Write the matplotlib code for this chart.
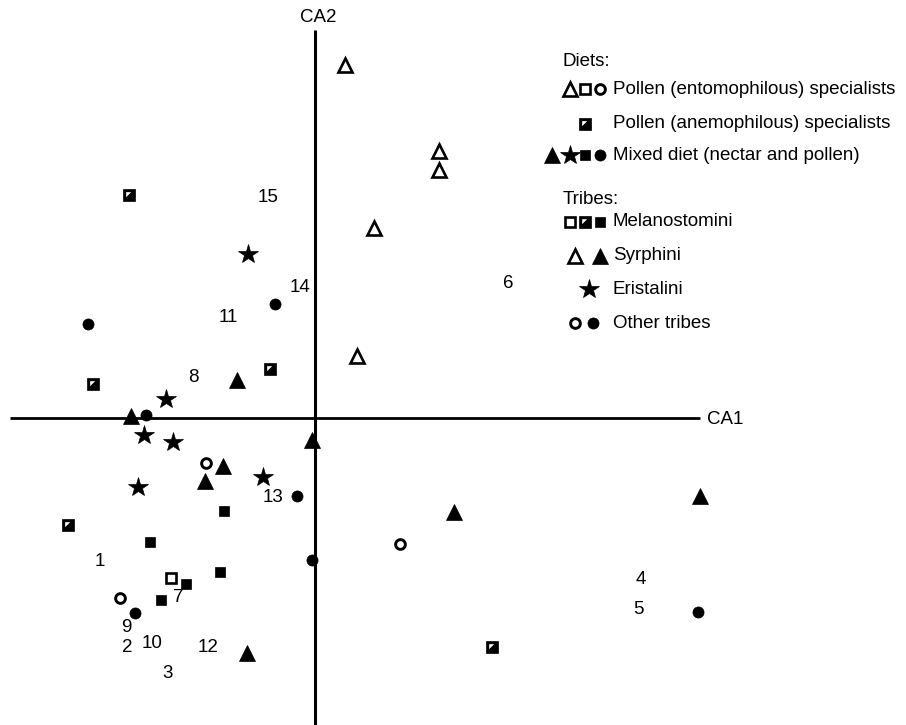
import matplotlib
matplotlib.use("Agg")
import matplotlib.pyplot as plt
import numpy as np

plt.rcParams['font.family'] = ['Liberation Sans', 'DejaVu Sans']

# CA scores (CA1, CA2), grouped by symbol
open_tri_x = [0.30, 1.24, 1.24, 0.59, 0.42]
open_tri_y = [3.53, 2.67, 2.48, 1.90, 0.62]

fill_tri_x = [-1.84, -0.78, -0.92, -1.10, -0.03, 1.39, 3.85, -0.68]
fill_tri_y = [0.02, 0.38, -0.48, -0.63, -0.22, -0.94, -0.78, -2.35]

star_x = [-0.67, -1.49, -1.71, -1.42, -0.52, -1.77]
star_y = [1.64, 0.19, -0.17, -0.24, -0.59, -0.69]

fill_circ_x = [-2.27, -0.40, -1.69, -0.18, -0.03, -1.80, 3.83]
fill_circ_y = [0.94, 1.14, 0.03, -0.78, -1.42, -1.95, -1.94]

open_circ_x = [-1.09, 0.85, -1.95]
open_circ_y = [-0.45, -1.26, -1.80]

fill_sq_x = [-0.91, -1.65, -0.95, -1.29, -1.54]
fill_sq_y = [-0.93, -1.24, -1.54, -1.66, -1.82]

open_sq_x = [-1.44]
open_sq_y = [-1.60]

half_sq_x = [-1.86, -2.22, -0.45, -2.47, 1.77]
half_sq_y = [2.23, 0.34, 0.49, -1.07, -2.29]

# numbered labels
num_labels = ["1", "2", "3", "4", "5", "6", "7", "8", "9", "10", "11", "12", "13", "14", "15"]
num_x = [-2.15, -1.88, -1.47, 3.26, 3.23, 1.93, -1.37, -1.22, -1.89, -1.63, -0.87, -1.07, -0.42, -0.15, -0.47]
num_y = [-1.43, -2.29, -2.55, -1.61, -1.92, 1.35, -1.80, 0.40, -2.09, -2.26, 1.01, -2.30, -0.80, 1.31, 2.20]

# legend content
diet_labels = ["Pollen (entomophilous) specialists",
               "Pollen (anemophilous) specialists",
               "Mixed diet (nectar and pollen)"]
diet_symbols = [["otri", "osq", "ocirc"], ["hsq"], ["ftri", "star", "fsq", "fcirc"]]
tribe_labels = ["Melanostomini", "Syrphini", "Eristalini", "Other tribes"]
tribe_symbols = [["osq", "hsq", "fsq"], ["otri", "ftri"], ["star"], ["ocirc", "fcirc"]]

W, H = 906, 725
fig = plt.figure(figsize=(W / 100, H / 100), dpi=100)
ax = fig.add_axes([0, 0, 1, 1])
ax.set_xlim(-3.15, 5.91)
ax.set_ylim(-3.07, 4.18)
ax.axis('off')

white_tri = [(-1, 1), (0.5, 1), (-1, -0.5), (-1, 1)]

styles = {
    "otri": dict(marker='^', ms=10.5, mfc='white', mec='black', mew=1.9),
    "ftri": dict(marker='^', ms=11, mfc='black', mec='black', mew=0.5),
    "star": dict(marker='*', ms=15, mfc='black', mec='black', mew=0.5),
    "fcirc": dict(marker='o', ms=8, mfc='black', mec='black', mew=0.5),
    "ocirc": dict(marker='o', ms=7, mfc='white', mec='black', mew=2.1),
    "fsq": dict(marker='s', ms=7.5, mfc='black', mec='black', mew=0.5),
    "osq": dict(marker='s', ms=6.5, mfc='white', mec='black', mew=1.9),
}


def draw(kind, x, y, **kw):
    if kind == "hsq":
        ax.plot(x, y, ls='none', marker='s', ms=8, mfc='black', mec='black', mew=0.5, **kw)
        ax.plot(x, y, ls='none', marker=white_tri, ms=4.8, mfc='white', mec='none', **kw)
    else:
        ax.plot(x, y, ls='none', **styles[kind], **kw)


FS = 13.5

# axes cross
ax.plot([-3.05, 3.85], [0, 0], color='black', lw=2.0, solid_capstyle='butt')
ax.plot([0.0, 0.0], [-3.07, 3.88], color='black', lw=2.2, solid_capstyle='butt')
ax.text(0.03, 4.01, "CA2", ha='center', va='center', fontsize=FS)
ax.text(3.92, -0.02, "CA1", ha='left', va='center', fontsize=FS)

draw("otri", open_tri_x, open_tri_y)
draw("ftri", fill_tri_x, fill_tri_y)
draw("star", star_x, star_y)
draw("fcirc", fill_circ_x, fill_circ_y)
draw("ocirc", open_circ_x, open_circ_y)
draw("fsq", fill_sq_x, fill_sq_y)
draw("osq", open_sq_x, open_sq_y)
draw("hsq", half_sq_x, half_sq_y)

for lab, x, y in zip(num_labels, num_x, num_y):
    ax.text(x, y, lab, ha='center', va='center', fontsize=FS)

# hand-made legend (pixel layout -> axes fraction)
def fx(px):
    return px / W


def fy(py):
    return 1 - py / H


tr = ax.transAxes
ax.text(fx(563), fy(62), "Diets:", ha='left', va='center', fontsize=FS, transform=tr)
diet_rows = [89, 124, 155]
diet_pos = [[570, 585, 600], [585], [552, 570, 585, 600]]
for lab, syms, py, pxs in zip(diet_labels, diet_symbols, diet_rows, diet_pos):
    for s, px in zip(syms, pxs):
        draw(s, [fx(px)], [fy(py)], transform=tr)
    ax.text(fx(613), fy(py), lab, ha='left', va='center', fontsize=FS, transform=tr)

ax.text(fx(563), fy(199), "Tribes:", ha='left', va='center', fontsize=FS, transform=tr)
tribe_rows = [222, 256, 289, 323]
tribe_pos = [[570, 585, 600], [575, 600], [589], [575, 593]]
for lab, syms, py, pxs in zip(tribe_labels, tribe_symbols, tribe_rows, tribe_pos):
    for s, px in zip(syms, pxs):
        draw(s, [fx(px)], [fy(py)], transform=tr)
    ax.text(fx(613), fy(py), lab, ha='left', va='center', fontsize=FS, transform=tr)

fig.savefig("out.png", dpi=100, facecolor='white')
